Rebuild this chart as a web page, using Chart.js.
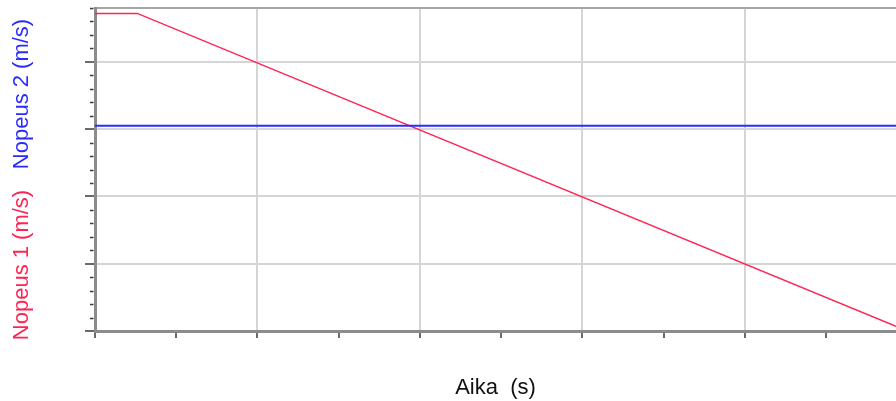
<!DOCTYPE html>
<html>
<head>
<meta charset="utf-8">
<script src="https://cdn.jsdelivr.net/npm/chart.js@4/dist/chart.umd.min.js"></script>
<style>
  html, body { margin: 0; padding: 0; background: #ffffff; }
  #wrap { width: 896px; height: 401px; position: relative; }
</style>
</head>
<body>
<div id="wrap"><canvas id="c" width="896" height="401"></canvas></div>
<script>
// Time samples (s) and speeds (m/s) for both series
const timeSpeed1 = [0, 0.26, 4.93];
const speed1 = [4.72, 4.72, 0.07];
const timeSpeed2 = [0, 4.93];
const speed2 = [3.05, 3.05];

// Axis ranges
const timeMin = 0, timeMax = 4.93;
const speedMin = 0, speedMax = 4.8;

const titleSpeed1 = 'Nopeus 1 (m/s)';
const titleSpeed2 = 'Nopeus 2 (m/s)';
const titleTime = 'Aika  (s)';

const RED = '#ff2352';
const BLUE = '#2b2bff';
const GRID = '#d5d5d5';
const AXIS = '#8c8c8c';
const TICK = '#3a3a3a';
const FONT = '"Liberation Sans", Arial, sans-serif';

const isWhole = v => Math.abs(v - Math.round(v)) < 1e-6;

// Short minor tick marks on the speed axis plus the two coloured axis titles
const speedAxisDecor = {
  id: 'speedAxisDecor',
  afterDraw(chart) {
    const ctx = chart.ctx;
    const y = chart.scales.y;
    const left = chart.chartArea.left;
    ctx.save();
    ctx.strokeStyle = TICK;
    ctx.lineWidth = 1.5;
    y.ticks.forEach(t => {
      if (isWhole(t.value)) return;
      const py = Math.round(y.getPixelForValue(t.value)) + 0.5;
      ctx.beginPath();
      ctx.moveTo(left - 5, py);
      ctx.lineTo(left - 1.5, py);
      ctx.stroke();
    });
    ctx.font = '22px ' + FONT;
    ctx.textAlign = 'center';
    ctx.textBaseline = 'middle';
    ctx.translate(22, 0);
    ctx.rotate(-Math.PI / 2);
    ctx.fillStyle = BLUE;
    ctx.fillText(titleSpeed2, -94, 0);
    ctx.fillStyle = RED;
    ctx.fillText(titleSpeed1, -265, 0);
    ctx.restore();
  }
};

new Chart(document.getElementById('c'), {
  type: 'line',
  data: {
    datasets: [
      {
        label: titleSpeed2,
        data: timeSpeed2.map((t, i) => ({ x: t, y: speed2[i] })),
        borderColor: BLUE,
        borderWidth: 2,
        pointRadius: 0,
        tension: 0
      },
      {
        label: titleSpeed1,
        data: timeSpeed1.map((t, i) => ({ x: t, y: speed1[i] })),
        borderColor: RED,
        borderWidth: 1.5,
        pointRadius: 0,
        tension: 0
      }
    ]
  },
  options: {
    responsive: false,
    animation: false,
    devicePixelRatio: 1,
    layout: { padding: { top: 8, right: 0, left: 0, bottom: 0 } },
    plugins: {
      legend: { display: false },
      tooltip: { enabled: false }
    },
    scales: {
      x: {
        type: 'linear',
        min: timeMin,
        max: timeMax,
        afterFit(scale) { scale.height = 70; },
        ticks: { stepSize: 0.5, display: false },
        grid: {
          drawTicks: true,
          tickLength: 7,
          lineWidth: 2,
          tickWidth: 1.5,
          color: ctx => (ctx.tick && isWhole(ctx.tick.value) && ctx.tick.value > 0 && ctx.tick.value < timeMax - 0.01) ? GRID : 'rgba(0,0,0,0)',
          tickColor: ctx => (ctx.tick && ctx.tick.value > timeMax - 0.01) ? 'rgba(0,0,0,0)' : TICK
        },
        border: { display: true, color: AXIS, width: 3 },
        title: {
          display: true,
          text: titleTime,
          color: '#111111',
          font: { family: FONT, size: 22 },
          padding: { top: 0, bottom: 0 }
        }
      },
      y: {
        type: 'linear',
        min: speedMin,
        max: speedMax,
        afterFit(scale) { scale.width = 95; },
        ticks: { stepSize: 0.2, display: false },
        grid: {
          drawTicks: true,
          tickLength: 10,
          tickWidth: 1.5,
          lineWidth: 2,
          color: ctx => {
            if (!ctx.tick) return 'rgba(0,0,0,0)';
            const v = ctx.tick.value;
            if (Math.abs(v - speedMax) < 1e-6) return '#a6a6a6';
            return (isWhole(v) && v > 0) ? GRID : 'rgba(0,0,0,0)';
          },
          tickColor: ctx => (ctx.tick && isWhole(ctx.tick.value)) ? TICK : 'rgba(0,0,0,0)'
        },
        border: { display: true, color: AXIS, width: 3 },
        title: { display: false }
      }
    }
  },
  plugins: [speedAxisDecor]
});
</script>
</body>
</html>
